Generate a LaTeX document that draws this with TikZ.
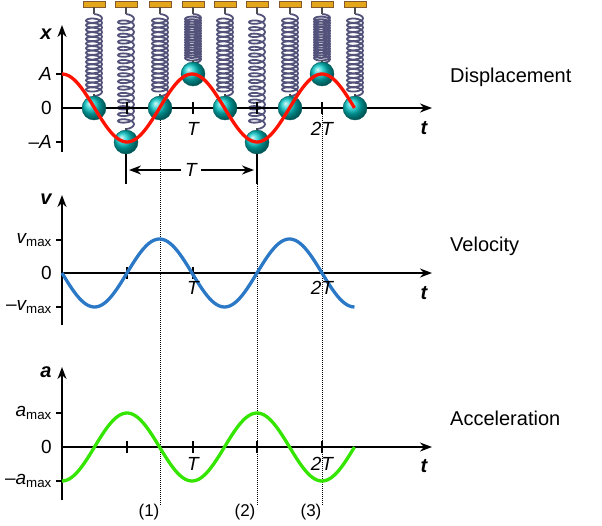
\documentclass[tikz,border=0pt]{standalone}
\usepackage{fontspec}
\setmainfont{Liberation Sans}
\usetikzlibrary{arrows.meta,decorations.pathmorphing}
\begin{document}
\begin{tikzpicture}[x=1pt,y=-1pt,
  ax/.style={line width=1.8pt,-{Stealth[length=12pt,width=9pt]}},
  tick/.style={line width=1.6pt},
  lab/.style={font=\fontsize{19}{20}\selectfont,anchor=east,inner sep=1pt},
  axl/.style={font=\fontsize{20}{20}\selectfont\bfseries\itshape,inner sep=0pt},
  tl/.style={font=\fontsize{19}{20}\selectfont\itshape,inner sep=0pt},
  ttl/.style={font=\fontsize{20}{20}\selectfont,anchor=west,inner sep=0pt},
  dot/.style={densely dotted,line width=1pt},
  ball/.style={ball color=cyan!55!teal,draw=teal!70!black,line width=0.4pt}]
\useasboundingbox (0,0) rectangle (602,525);
% dotted lines
\draw[dot] (160,110) -- (160,505);
\draw[dot] (257,180) -- (257,505);
\draw[dot] (322,110) -- (322,505);
% springs
\foreach \xx/\yy in {94/108,126/142,160/108,193/74,225/108,257/142,290/108,322/74,355/108}{
  \fill[brown!60!orange!70!yellow,draw=brown!70!black,line width=0.4pt] (\xx-11,1) rectangle (\xx+11,7);
  \draw[line width=1.6pt,gray!60!black] (\xx,7) -- (\xx,14);
  \pgfmathsetmacro{\seg}{(\yy-11-15-4)/17}
  \draw[line width=1.8pt,blue!20!gray!80!black,decorate,decoration={coil,amplitude=8pt,aspect=0.4,segment length=\seg pt}] (\xx,14) -- (\xx,\yy-9);
  \draw[line width=1.6pt,gray!60!black] (\xx,\yy-14) -- (\xx,\yy-9);
}
% displacement
\draw[ax] (62,152) -- (62,25);
\draw[ax] (62,108) -- (432,108);
\foreach \yy in {74,142} \draw[tick] (56,\yy) -- (62,\yy);
\foreach \xx in {127,193,257,322} \draw[tick] (\xx,102) -- (\xx,114);
\foreach \xx/\yy in {94/108,126/142,160/108,193/74,225/108,257/142,290/108,322/74,355/108}
  \shade[ball] (\xx,\yy) circle (12);
\draw[red!85!orange,line width=3.3pt] plot[domain=0:2.25,samples=120] ({62+130*\x},{108-34*cos(360*\x)});
\node[axl] at (46,34) {x};
\node[axl] at (424,128) {t};
\node[lab] at (53,74) {\itshape A};
\node[lab] at (53,108) {0};
\node[lab] at (53,142) {–\itshape A};
\node[tl] at (193,129) {T};
\node[tl] at (322,129) {2T};
\node[ttl] at (450,77) {Displacement};
% T arrow
\draw[line width=2.8pt] (126,154) -- (126,184);
\draw[line width=2.8pt] (257,154) -- (257,184);
\node[tl,fill=white,inner sep=4pt] (Tm) at (191,170) {T};
\draw[line width=1.6pt,-{Stealth[length=12pt,width=9pt]}] (Tm.west) -- (129,170);
\draw[line width=1.6pt,-{Stealth[length=12pt,width=9pt]}] (Tm.east) -- (254,170);
% velocity
\draw[ax] (62,325) -- (62,195);
\draw[ax] (62,273) -- (432,273);
\foreach \yy in {240,307} \draw[tick] (56,\yy) -- (62,\yy);
\foreach \xx in {127,193} \draw[tick] (\xx,267) -- (\xx,279);
\draw[cyan!50!blue!90,line width=3.3pt] plot[domain=0:2.25,samples=120] ({62+130*\x},{273+34*sin(360*\x)});
\node[axl] at (46,199) {v};
\node[axl] at (424,293) {t};
\node[lab] at (53,240) {\itshape v\textsubscript{\normalfont max}};
\node[lab] at (53,273) {0};
\node[lab] at (53,307) {–\itshape v\textsubscript{\normalfont max}};
\node[tl] at (193,288) {T};
\node[tl] at (322,288) {2T};
\node[ttl] at (450,246) {Velocity};
% acceleration
\draw[ax] (62,500) -- (62,367);
\draw[ax] (62,447) -- (432,447);
\foreach \yy in {413,481} \draw[tick] (56,\yy) -- (62,\yy);
\foreach \xx in {127,193,257,322} \draw[tick] (\xx,441) -- (\xx,453);
\draw[green!70!lime!90!black,line width=3.3pt] plot[domain=0:2.25,samples=120] ({62+130*\x},{447+34*cos(360*\x)});
\node[axl] at (46,372) {a};
\node[axl] at (424,466) {t};
\node[lab] at (53,413) {\itshape a\textsubscript{\normalfont max}};
\node[lab] at (53,447) {0};
\node[lab] at (53,481) {–\itshape a\textsubscript{\normalfont max}};
\node[tl] at (193,464) {T};
\node[tl] at (322,464) {2T};
\node[ttl] at (450,418) {Acceleration};
\node[font=\fontsize{17}{18}\selectfont] at (149,512) {(1)};
\node[font=\fontsize{17}{18}\selectfont] at (245,512) {(2)};
\node[font=\fontsize{17}{18}\selectfont] at (311,512) {(3)};
\end{tikzpicture}
\end{document}
